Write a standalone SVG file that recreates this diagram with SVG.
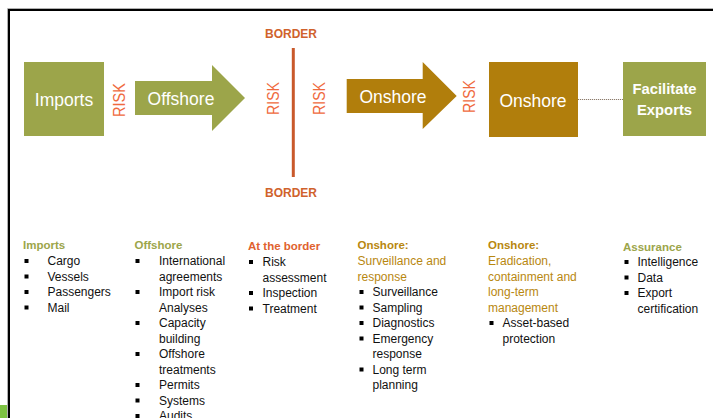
<svg xmlns="http://www.w3.org/2000/svg" width="713" height="418" viewBox="0 0 713 418">
<defs>
<style>
.box-olive{fill:#9ca54a}
.box-gold{fill:#b17e0c}
.big{font-family:"Liberation Sans",Arial,sans-serif;font-size:17.5px;fill:#ffffff;text-anchor:middle}
.bigb{font-family:"Liberation Sans",Arial,sans-serif;font-size:14.8px;font-weight:bold;fill:#ffffff;text-anchor:middle}
.risk{font-family:"Liberation Sans",Arial,sans-serif;font-size:17px;fill:#ef6a3e;text-anchor:middle}
.border{font-family:"Liberation Sans",Arial,sans-serif;font-size:12px;font-weight:bold;fill:#d0622c;text-anchor:middle}
.h{font-family:"Liberation Sans",Arial,sans-serif;font-size:11.5px;font-weight:bold}
.sub{font-family:"Liberation Sans",Arial,sans-serif;font-size:12px}
.t{font-family:"Liberation Sans",Arial,sans-serif;font-size:12px;fill:#111111}
.olive{fill:#9ca54a}
.gold{fill:#b8870f}
.orange{fill:#e0622f}
.bul{fill:#000000}
</style>
</defs>
<rect x="0" y="0" width="713" height="418" fill="#ffffff"/>
<!-- frame -->
<g id="frame">
<rect x="0" y="405" width="8" height="13" fill="#7dc242"/>
<path d="M7.5 418 V8.5 H713" fill="none" stroke="#b0b0b0" stroke-width="1"/>
<path d="M9 418 V10 H713" fill="none" stroke="#000000" stroke-width="2"/>
</g>
<!-- nodes -->
<g id="imports">
<rect class="box-olive" x="24" y="62" width="80" height="74"/>
<text class="big" x="64" y="106" font-size="18">Imports</text>
</g>
<g id="offshore-arrow">
<polygon class="box-olive" points="135,81 212,81 212,65 245,98 212,131 212,115 135,115"/>
<text class="big" x="181" y="105">Offshore</text>
</g>
<g id="border">
<line x1="293.3" y1="48" x2="293.3" y2="177" stroke="#c9592b" stroke-width="3"/>
<text class="border" x="291" y="38">BORDER</text>
<text class="border" x="291" y="197">BORDER</text>
</g>
<g id="onshore-arrow">
<polygon class="box-gold" points="346.7,79 422.7,79 422.7,62 456.7,96 422.7,129 422.7,113 346.7,113"/>
<text class="big" x="393" y="103">Onshore</text>
</g>
<g id="onshore-box">
<rect class="box-gold" x="489" y="62" width="89" height="75"/>
<text class="big" x="533" y="107">Onshore</text>
</g>
<g id="facilitate-exports">
<rect class="box-olive" x="623" y="62" width="83" height="74"/>
<text class="bigb" x="664.5" y="94">Facilitate</text>
<text class="bigb" x="664.5" y="115" font-size="14.4">Exports</text>
</g>
<g id="risk-labels">
<text class="risk" transform="translate(125,100) rotate(-90)" textLength="34" lengthAdjust="spacingAndGlyphs">RISK</text>
<text class="risk" transform="translate(278.5,98.5) rotate(-90)" textLength="33" lengthAdjust="spacingAndGlyphs">RISK</text>
<text class="risk" transform="translate(325,98.5) rotate(-90)" textLength="33" lengthAdjust="spacingAndGlyphs">RISK</text>
<text class="risk" transform="translate(475,96.5) rotate(-90)" textLength="33" lengthAdjust="spacingAndGlyphs">RISK</text>
</g>
<!-- connectors -->
<g id="connectors">
<line x1="578" y1="99.5" x2="623" y2="99.5" stroke="#8c7b6c" stroke-width="1" stroke-dasharray="1.2,0.8"/>
</g>
<!-- lists -->
<g id="list-imports">
<text class="h olive" x="23" y="249">Imports</text>
<g class="bul"><rect x="24.5" y="259" width="4" height="4"/><rect x="24.5" y="274.5" width="4" height="4"/><rect x="24.5" y="290" width="4" height="4"/><rect x="24.5" y="305.5" width="4" height="4"/></g>
<text class="t" x="47.5" y="265">Cargo</text>
<text class="t" x="47.5" y="280.5">Vessels</text>
<text class="t" x="47.5" y="296">Passengers</text>
<text class="t" x="47.5" y="311.5">Mail</text>
</g>
<g id="list-offshore">
<text class="h olive" x="134.5" y="249">Offshore</text>
<g class="bul"><rect x="135.5" y="259" width="4" height="4"/><rect x="135.5" y="290" width="4" height="4"/><rect x="135.5" y="321" width="4" height="4"/><rect x="135.5" y="352" width="4" height="4"/><rect x="135.5" y="383" width="4" height="4"/><rect x="135.5" y="398.5" width="4" height="4"/><rect x="135.5" y="414" width="4" height="4"/></g>
<text class="t" x="159" y="265">International</text>
<text class="t" x="159" y="280.5">agreements</text>
<text class="t" x="159" y="296">Import risk</text>
<text class="t" x="159" y="311.5">Analyses</text>
<text class="t" x="159" y="327">Capacity</text>
<text class="t" x="159" y="342.5">building</text>
<text class="t" x="159" y="358">Offshore</text>
<text class="t" x="159" y="373.5">treatments</text>
<text class="t" x="159" y="389">Permits</text>
<text class="t" x="159" y="404.5">Systems</text>
<text class="t" x="159" y="420">Audits</text>
</g>
<g id="list-border">
<text class="h orange" x="248" y="250">At the border</text>
<g class="bul"><rect x="249" y="260" width="4" height="4"/><rect x="249" y="291" width="4" height="4"/><rect x="249" y="306.5" width="4" height="4"/></g>
<text class="t" x="262.5" y="266">Risk</text>
<text class="t" x="262.5" y="281.5">assessment</text>
<text class="t" x="262.5" y="297">Inspection</text>
<text class="t" x="262.5" y="312.5">Treatment</text>
</g>
<g id="list-onshore-surveillance">
<text class="h gold" x="357.5" y="249">Onshore:</text>
<text class="sub gold" x="357.5" y="265">Surveillance and</text>
<text class="sub gold" x="357.5" y="280.5">response</text>
<g class="bul"><rect x="359.5" y="290" width="4" height="4"/><rect x="359.5" y="305.5" width="4" height="4"/><rect x="359.5" y="321" width="4" height="4"/><rect x="359.5" y="336.5" width="4" height="4"/><rect x="359.5" y="367.5" width="4" height="4"/></g>
<text class="t" x="372.5" y="296">Surveillance</text>
<text class="t" x="372.5" y="311.5">Sampling</text>
<text class="t" x="372.5" y="327">Diagnostics</text>
<text class="t" x="372.5" y="342.5">Emergency</text>
<text class="t" x="372.5" y="358">response</text>
<text class="t" x="372.5" y="373.5">Long term</text>
<text class="t" x="372.5" y="389">planning</text>
</g>
<g id="list-onshore-eradication">
<text class="h gold" x="488" y="249">Onshore:</text>
<text class="sub gold" x="488" y="265">Eradication,</text>
<text class="sub gold" x="488" y="280.5">containment and</text>
<text class="sub gold" x="488" y="296">long-term</text>
<text class="sub gold" x="488" y="311.5">management</text>
<g class="bul"><rect x="489.5" y="321" width="4" height="4"/></g>
<text class="t" x="502.5" y="327">Asset-based</text>
<text class="t" x="502.5" y="342.5">protection</text>
</g>
<g id="list-assurance">
<text class="h olive" x="623" y="250.5">Assurance</text>
<g class="bul"><rect x="624.5" y="260" width="4" height="4"/><rect x="624.5" y="275.5" width="4" height="4"/><rect x="624.5" y="291" width="4" height="4"/></g>
<text class="t" x="637.5" y="266">Intelligence</text>
<text class="t" x="637.5" y="281.5">Data</text>
<text class="t" x="637.5" y="297">Export</text>
<text class="t" x="637.5" y="312.5">certification</text>
</g>
</svg>
